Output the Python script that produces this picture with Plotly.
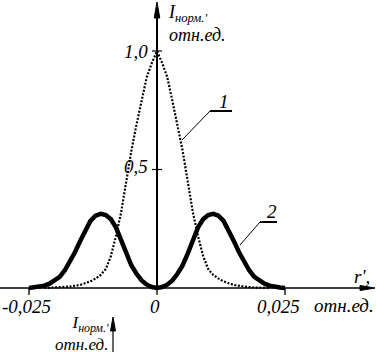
import plotly.graph_objects as go

# ---------------- data ----------------
r1 = [-0.022, -0.019, -0.017, -0.015, -0.014, -0.013, -0.012, -0.011, -0.010,
      -0.009, -0.008, -0.007, -0.006, -0.005, -0.004, -0.003, -0.002, -0.001,
      0.0,
      0.001, 0.002, 0.003, 0.004, 0.005, 0.006, 0.007, 0.008, 0.009,
      0.010, 0.011, 0.012, 0.013, 0.014, 0.015, 0.017, 0.019, 0.022]
i1 = [0.0, 0.002, 0.006, 0.013, 0.02, 0.028, 0.04, 0.055, 0.08,
      0.135, 0.22, 0.32, 0.45, 0.58, 0.69, 0.79, 0.89, 0.95,
      1.0,
      0.95, 0.89, 0.79, 0.69, 0.58, 0.45, 0.32, 0.22, 0.135,
      0.08, 0.055, 0.04, 0.028, 0.02, 0.013, 0.006, 0.002, 0.0]

r2 = [-0.025, -0.024, -0.023, -0.022, -0.021, -0.020, -0.019, -0.018, -0.017,
      -0.016, -0.015, -0.014, -0.013, -0.012, -0.011, -0.010, -0.009, -0.008,
      -0.007, -0.006, -0.005, -0.004, -0.003, -0.002, -0.001,
      0.0,
      0.001, 0.002, 0.003, 0.004, 0.005, 0.006, 0.007, 0.008, 0.009,
      0.010, 0.011, 0.012, 0.013, 0.014, 0.015, 0.016, 0.017, 0.018,
      0.019, 0.020, 0.021, 0.022, 0.023, 0.024, 0.025]
i2 = [0.0, 0.002, 0.005, 0.01, 0.018, 0.03, 0.047, 0.075, 0.11,
      0.152, 0.198, 0.245, 0.283, 0.305, 0.313, 0.308, 0.29, 0.255,
      0.205, 0.145, 0.095, 0.06, 0.032, 0.014, 0.004,
      0.0,
      0.004, 0.014, 0.032, 0.06, 0.095, 0.145, 0.205, 0.255, 0.29,
      0.308, 0.313, 0.305, 0.283, 0.245, 0.198, 0.152, 0.11, 0.075,
      0.047, 0.03, 0.018, 0.01, 0.005, 0.002, 0.0]

xtick_vals = [-0.025, 0.0, 0.025]
xtick_text = ["-0,025", "0", "0,025"]
ytick_vals = [0.5, 1.0]
ytick_text = ["0,5", "1,0"]

y_title = "I<sub>норм.'</sub><br>отн.ед."
x_title = "r',"
x_unit = "отн.ед."
curve_labels = ["1", "2"]

# ---------------- geometry helpers ----------------
W, H = 377, 352
SX, X0PX = 5120.0, 157.0   # px per unit, px of r = 0
SY, Y0PX = 237.0, 288.0    # px per unit, px of I = 0


def dx(px):
    return (px - X0PX) / SX


def dy(py):
    return (Y0PX - py) / SY


def px_x(v):
    return X0PX + v * SX


def px_y(v):
    return Y0PX - v * SY


FONT = "Liberation Serif"
INK = "black"

fig = go.Figure()
fig.add_trace(go.Scatter(x=r1, y=i1, mode="lines", line=dict(color=INK, width=2.2, dash="2px,1.6px"),
                         hoverinfo="skip"))
fig.add_trace(go.Scatter(x=r2, y=i2, mode="lines", line=dict(color=INK, width=4.5),
                         hoverinfo="skip"))

shapes = []


def seg(x1, y1, x2, y2, w=1.0):
    shapes.append(dict(type="line", xref="x", yref="y", x0=dx(x1), y0=dy(y1), x1=dx(x2), y1=dy(y2),
                       line=dict(color=INK, width=w), layer="above"))


def tri(points):
    p = "M " + " L ".join(f"{dx(a)},{dy(b)}" for a, b in points) + " Z"
    shapes.append(dict(type="path", xref="x", yref="y", path=p, fillcolor=INK,
                       line=dict(color=INK, width=1), layer="above"))


# x axis with arrow
seg(0, Y0PX, 362, Y0PX, 1.5)
tri([(375, Y0PX), (360, Y0PX - 2.5), (360, Y0PX + 2.5)])
# y axis with arrow
seg(X0PX, Y0PX + 2, X0PX, 16, 2)
tri([(X0PX, 2), (X0PX - 2.8, 18), (X0PX + 2.8, 18)])
# lone bottom arrow
seg(113, H, 113, 330, 1.2)
tri([(113, 317), (110.5, 331), (115.5, 331)])

# ticks
for v in xtick_vals:
    seg(px_x(v), Y0PX, px_x(v), Y0PX + 7, 1.3)
for v in ytick_vals:
    seg(X0PX - 5, px_y(v), X0PX + 5, px_y(v), 1.2)

# leader lines
seg(182, 140, 210, 111, 1)
seg(210, 111, 232, 111, 2)
seg(240, 245, 260, 222, 1)
seg(260, 222, 277, 222, 2)

ann = []


def text(s, xpx, ypx, size=19, xa="center", ya="middle", align="center"):
    ann.append(dict(text=s, xref="x", yref="y", x=dx(xpx), y=dy(ypx), showarrow=False,
                    xanchor=xa, yanchor=ya, align=align,
                    font=dict(family=FONT, size=size, color=INK, style="italic")))


# tick labels
xlab_px = [26, 155, 278]
for v, s, p in zip(xtick_vals, xtick_text, xlab_px):
    text(s, p, 306, xa="center")
ylab_py = [166, 51]
for v, s, p in zip(ytick_vals, ytick_text, ylab_py):
    text(s, 150, p, xa="right")

# axis titles
text(x_unit, 376, 305, xa="right")
text(x_title, 372, 276, xa="right")
text(y_title, 166, 0, size=18, xa="left", ya="top", align="left")
text(y_title, 111, 311, size=17, xa="right", ya="top", align="right")
# curve numbers
text(curve_labels[0], 224, 101)
text(curve_labels[1], 272, 211)

fig.update_layout(
    width=W, height=H, autosize=False,
    margin=dict(l=0, r=0, t=0, b=0, pad=0),
    paper_bgcolor="white", plot_bgcolor="white",
    showlegend=False,
    font=dict(family=FONT),
    xaxis=dict(range=[dx(0), dx(W)], visible=False, fixedrange=True),
    yaxis=dict(range=[dy(H), dy(0)], visible=False, fixedrange=True),
    shapes=shapes, annotations=ann,
)
fig.write_html("out.html", config={"displayModeBar": False},
               post_script="document.body.style.margin='0px';document.body.style.padding='0px';")
